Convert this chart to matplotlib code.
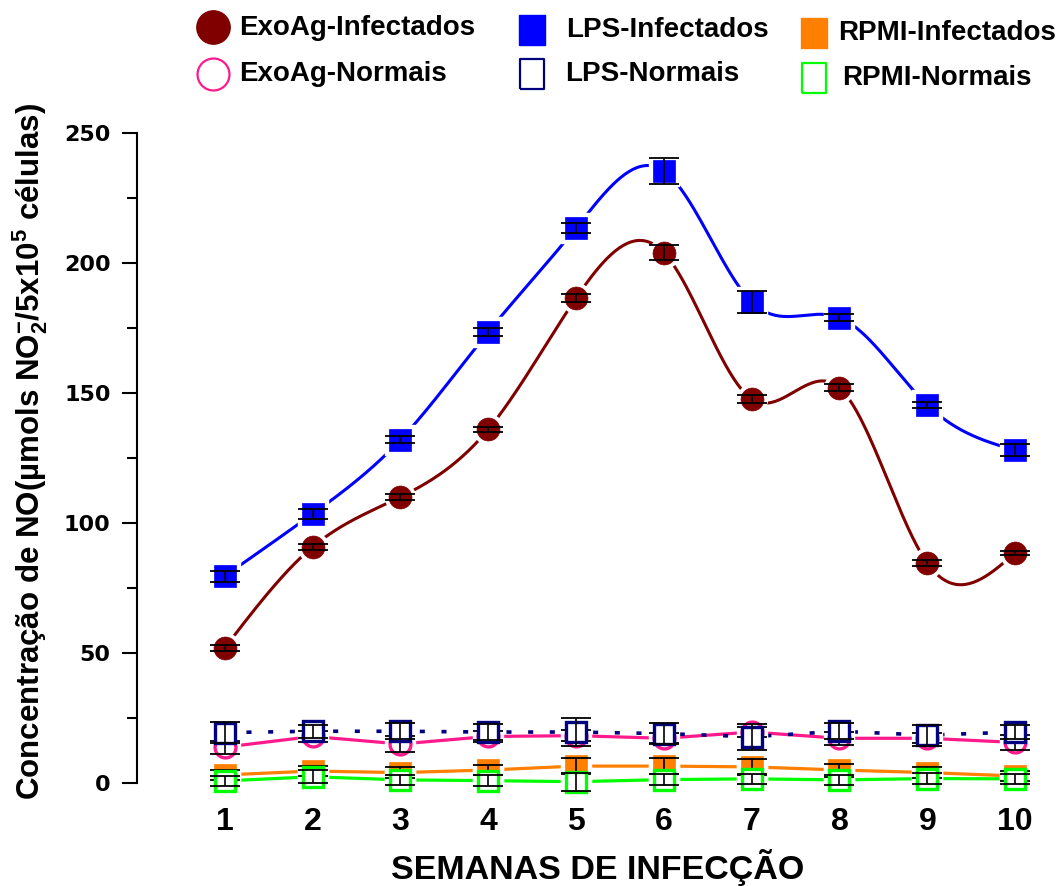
import numpy as np
import matplotlib
matplotlib.use("Agg")
import matplotlib.pyplot as plt
from matplotlib.lines import Line2D

plt.rcParams['font.family'] = ['Liberation Sans', 'DejaVu Sans']
plt.rcParams['font.weight'] = 'bold'
plt.rcParams['mathtext.fontset'] = 'custom'
plt.rcParams['mathtext.rm'] = 'Liberation Sans:bold'
plt.rcParams['mathtext.default'] = 'rm'

# data
weeks = np.arange(1, 11)

exo_inf = [52, 90.8, 110, 136, 186.5, 204, 147.7, 152, 84.6, 88.5]
exo_inf_err = [1.2, 1.3, 1.3, 1.1, 1.5, 3.0, 1.7, 1.3, 1.2, 0.8]

lps_inf = [79.6, 103.5, 132, 173.5, 213.5, 235.4, 185, 179, 145.4, 128]
lps_inf_err = [2.1, 1.9, 1.4, 1.5, 1.9, 5.0, 4.4, 1.3, 1.3, 2.3]

exo_norm = [13.8, 17.9, 15.0, 17.9, 18.2, 17.2, 19.6, 17.2, 17.2, 15.6]
exo_norm_err = [2.5, 2.0, 3.0, 2.0, 2.0, 2.0, 2.0, 2.5, 2.0, 3.0]

lps_norm = [19.4, 19.9, 19.9, 19.6, 19.6, 19.0, 17.8, 19.9, 18.4, 19.6]
lps_norm_err = [4.0, 2.4, 3.0, 3.0, 5.3, 4.0, 5.0, 3.0, 4.0, 2.8]

rpmi_inf = [3.1, 4.6, 4.0, 5.0, 6.5, 6.5, 6.2, 5.0, 4.0, 2.7]
rpmi_inf_err = [2.0, 2.0, 2.0, 2.0, 3.0, 3.0, 3.0, 2.5, 2.0, 2.0]

rpmi_norm = [0.8, 2.4, 1.2, 0.9, 0.5, 1.3, 1.6, 1.2, 1.7, 1.6]
rpmi_norm_err = [2.0, 2.5, 2.0, 2.0, 3.5, 2.0, 2.0, 2.0, 2.0, 2.0]

labels = ['ExoAg-Infectados', 'LPS-Infectados', 'RPMI-Infectados',
          'ExoAg-Normais', 'LPS-Normais', 'RPMI-Normais']


def natural_spline(x, y, xs):
    x = np.asarray(x, float)
    y = np.asarray(y, float)
    n = len(x)
    h = np.diff(x)
    A = np.zeros((n, n))
    b = np.zeros(n)
    A[0, 0] = A[-1, -1] = 1
    for i in range(1, n - 1):
        A[i, i - 1] = h[i - 1]
        A[i, i] = 2 * (h[i - 1] + h[i])
        A[i, i + 1] = h[i]
        b[i] = 3 * ((y[i + 1] - y[i]) / h[i] - (y[i] - y[i - 1]) / h[i - 1])
    c = np.linalg.solve(A, b)
    bb = (y[1:] - y[:-1]) / h - h * (2 * c[:-1] + c[1:]) / 3
    d = (c[1:] - c[:-1]) / (3 * h)
    idx = np.clip(np.searchsorted(x, xs) - 1, 0, n - 2)
    dx = xs - x[idx]
    return y[idx] + bb[idx] * dx + c[idx] * dx ** 2 + d[idx] * dx ** 3


W, H = 1063, 886
fig = plt.figure(figsize=(W / 100, H / 100), dpi=100)
ax = fig.add_axes([137 / W, 1 - 783 / H, (1059 - 137) / W, 650 / H])

xs = np.linspace(1, 10, 400)

series = [
    # y, err, color, marker, filled, smooth, linestyle
    (exo_inf, exo_inf_err, '#800000', 'o', True, True, '-'),
    (lps_inf, lps_inf_err, '#0000ff', 's', True, True, '-'),
    (exo_norm, exo_norm_err, '#ff1a8c', 'o', False, False, '-'),
    (rpmi_inf, rpmi_inf_err, '#ff8000', 's', True, False, '-'),
    (lps_norm, lps_norm_err, '#000080', 's', False, False, 'dot'),
    (rpmi_norm, rpmi_norm_err, '#00ff00', 's', False, False, '-'),
]

for k, (y, err, col, mk, filled, smooth, ls) in enumerate(series):
    if smooth:
        ax.plot(xs, natural_spline(weeks, y, xs), color=col, lw=2.2, zorder=2)
    elif ls == 'dot':
        ax.plot(weeks, y, color=col, lw=2.6, dashes=(1.4, 4.6),
                dash_capstyle='butt', zorder=2)
    else:
        ax.plot(weeks, y, color=col, lw=2.3, zorder=2)
    ms = 16.5 if filled else 16
    # white halo so the lines stop short of the markers
    ax.plot(weeks, y, linestyle='none', marker=mk, ms=ms + 5, color='white',
            mec='white', zorder=3, clip_on=False)
    if filled:
        ax.plot(weeks, y, linestyle='none', marker=mk, ms=ms, color=col,
                mec=col, mew=0.5, zorder=4 + k, clip_on=False)
    else:
        ax.plot(weeks, y, linestyle='none', marker=mk, ms=ms - 1, mfc='white',
                mec=col, mew=2.4, zorder=4 + k, clip_on=False)
    ax.errorbar(weeks, y, yerr=err, fmt='none', ecolor='black', elinewidth=1.2,
                capsize=10.5, capthick=1.3, zorder=4.5 + k, clip_on=False)

ax.set_xlim(0, 10.5)
ax.set_ylim(0, 250)
ax.set_xticks(weeks)
ax.set_xticklabels([str(w) for w in weeks], fontsize=23, fontweight='bold')
ax.set_yticks(np.arange(0, 251, 50))
ax.set_yticks(np.arange(25, 250, 50), minor=True)
ax.set_yticklabels([str(v) for v in range(0, 251, 50)], fontsize=16,
                   fontweight='bold', family='DejaVu Sans')
ax.tick_params(axis='x', length=0, pad=17)
ax.tick_params(axis='y', which='major', length=11, width=1.5, pad=8)
ax.tick_params(axis='y', which='minor', length=7, width=1.5)
for s in ['top', 'right', 'bottom']:
    ax.spines[s].set_visible(False)
ax.spines['left'].set_linewidth(1.5)

fig.text(30 / W, 1 - 452 / H,
         'Concentração de NO(µmols NO$_2^{-}$/5x10$^5$ células)',
         rotation=90, ha='center', va='center', fontsize=22.5, fontweight='bold')
fig.text(598 / W, 1 - 879 / H, 'SEMANAS DE INFECÇÃO', ha='center',
         va='baseline', fontsize=24.5, fontweight='bold')

# legend, laid out by hand
rect = [(-0.42, -0.5), (0.42, -0.5), (0.42, 0.5), (-0.42, 0.5), (-0.42, -0.5)]
leg_items = [
    ('ExoAg-Infectados', 'o', '#800000', True, (213, 27), (239, 28)),
    ('LPS-Infectados', rect, '#0000ff', True, (532, 30), (566, 30)),
    ('RPMI-Infectados', rect, '#ff8000', True, (814, 33), (838, 33)),
    ('ExoAg-Normais', 'o', '#ff1a8c', False, (213, 74), (239, 74)),
    ('LPS-Normais', rect, '#000080', False, (532, 74), (565, 74)),
    ('RPMI-Normais', rect, '#00ff00', False, (814, 78), (842, 78)),
]
for lab, mk, col, filled, (mx, my), (tx, ty) in leg_items:
    ms = 24 if mk == 'o' else 22
    if filled:
        ln = Line2D([mx / W], [1 - my / H], marker=mk, ms=ms, color=col,
                    mec=col, linestyle='none', transform=fig.transFigure)
    else:
        ln = Line2D([mx / W], [1 - my / H], marker=mk, ms=ms - 1, mfc='white',
                    mec=col, mew=1.6, linestyle='none', transform=fig.transFigure)
    fig.add_artist(ln)
    fig.text(tx / W, 1 - ty / H, lab, ha='left', va='center', fontsize=20,
             fontweight='bold')

fig.savefig('out.png', dpi=100)
